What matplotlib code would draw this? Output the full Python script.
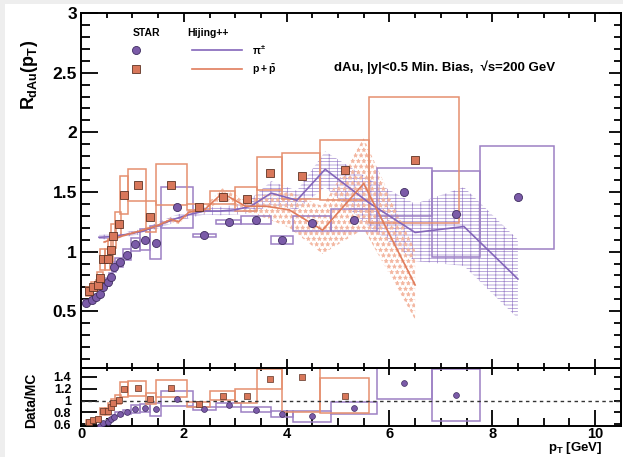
import matplotlib
matplotlib.use('Agg')
import matplotlib.pyplot as plt
from matplotlib.patches import Rectangle
from matplotlib.ticker import MultipleLocator, NullFormatter, NullLocator

plt.rcParams['font.family'] = ['Liberation Sans', 'DejaVu Sans']
plt.rcParams['font.weight'] = 'bold'
plt.rcParams['mathtext.fontset'] = 'custom'
plt.rcParams['mathtext.rm'] = 'Liberation Sans:bold'
plt.rcParams['mathtext.it'] = 'Liberation Sans:bold'
plt.rcParams['mathtext.bf'] = 'Liberation Sans:bold'
plt.rcParams['hatch.linewidth'] = 0.5

# STAR pions (upper panel)
pi_pt = [0.10, 0.21, 0.29, 0.37, 0.43, 0.52, 0.58, 0.65, 0.75, 0.89, 1.06, 1.25,
         1.46, 1.87, 2.39, 2.87, 3.40, 3.92, 4.50, 5.31, 6.29, 7.30, 8.50]
pi_r = [0.57, 0.59, 0.62, 0.645, 0.705, 0.745, 0.79, 0.87, 0.91, 0.975, 1.06, 1.10,
        1.075, 1.37, 1.137, 1.248, 1.265, 1.097, 1.237, 1.265, 1.497, 1.315, 1.455]
pi_sys = [0.02, 0.02, 0.02, 0.02, 0.03, 0.03, 0.03, 0.04, 0.04, 0.045, 0.055, 0.09,
          0.14, 0.17, 0.013, 0.02, 0.03, 0.035, 0.065, 0.09, 0.20, 0.36, 0.43]
pi_lo = [0.06, 0.17, 0.25, 0.33, 0.39, 0.48, 0.54, 0.61, 0.66, 0.81, 0.98, 1.15,
         1.34, 1.56, 2.17, 2.62, 3.11, 3.70, 4.13, 4.86, 5.75, 6.83, 7.76]
pi_hi = [0.14, 0.25, 0.33, 0.41, 0.47, 0.56, 0.62, 0.69, 0.81, 0.98, 1.15, 1.34,
         1.56, 2.18, 2.62, 3.11, 3.70, 4.13, 4.86, 5.75, 6.83, 7.76, 9.21]

# STAR protons (upper panel)
p_pt = [0.16, 0.24, 0.34, 0.37, 0.42, 0.52, 0.58, 0.63, 0.73, 0.84, 1.10, 1.35,
        1.76, 2.29, 2.77, 3.22, 3.68, 4.29, 5.14, 6.50]
p_r = [0.667, 0.706, 0.72, 0.78, 0.935, 0.935, 1.013, 1.13, 1.23, 1.475, 1.56, 1.29,
       1.56, 1.376, 1.455, 1.443, 1.656, 1.634, 1.684, 1.768]
p_sys = [0.04, 0.04, 0.04, 0.05, 0.09, 0.09, 0.09, 0.10, 0.10, 0.16, 0.135, 0.13,
         0.17, 0.025, 0.055, 0.10, 0.14, 0.19, 0.25, 0.525]
p_lo = [0.10, 0.19, 0.29, 0.32, 0.37, 0.47, 0.53, 0.58, 0.67, 0.76, 0.92, 1.26,
        1.46, 2.06, 2.51, 3.00, 3.42, 3.92, 4.65, 5.61]
p_hi = [0.21, 0.29, 0.39, 0.42, 0.47, 0.57, 0.63, 0.68, 0.78, 0.92, 1.26, 1.46,
        2.06, 2.51, 3.00, 3.42, 3.92, 4.65, 5.61, 7.36]

# Hijing++ curves and bands
pi_mc_pt = [0.35, 0.6, 0.9, 1.2, 1.5, 1.8, 2.1, 2.4, 2.7, 3.0, 3.3, 3.7, 4.2, 4.75,
            5.6, 6.5, 7.45, 8.5]
pi_mc = [1.12, 1.125, 1.145, 1.17, 1.22, 1.27, 1.31, 1.34, 1.34, 1.35, 1.38, 1.49,
         1.43, 1.69, 1.41, 1.16, 1.21, 0.77]
pi_mc_err = [0.02, 0.02, 0.02, 0.02, 0.025, 0.03, 0.03, 0.03, 0.035, 0.04, 0.06, 0.10,
             0.08, 0.15, 0.20, 0.24, 0.33, 0.33]
p_mc_pt = [0.45, 0.8, 1.2, 1.5, 1.75, 1.9, 2.1, 2.4, 2.75, 3.2, 3.6, 4.05, 4.7, 5.5, 6.5]
p_mc = [1.08, 1.13, 1.18, 1.22, 1.27, 1.25, 1.33, 1.35, 1.49, 1.38, 1.38, 1.35, 1.18,
        1.57, 0.72]
p_mc_err = [0.01, 0.01, 0.015, 0.015, 0.02, 0.02, 0.02, 0.03, 0.04, 0.05, 0.10, 0.15,
            0.20, 0.38, 0.29]

# Data/MC (lower panel)
pi_rat_pt = [0.37, 0.43, 0.52, 0.58, 0.65, 0.75, 0.89, 1.06, 1.25, 1.46, 1.87, 2.39,
             2.87, 3.40, 3.92, 4.50, 5.31, 6.29, 7.30]
pi_rat = [0.573, 0.62, 0.646, 0.69, 0.73, 0.77, 0.81, 0.86, 0.875, 0.85, 1.034, 0.863,
          0.926, 0.846, 0.778, 0.732, 0.88, 1.29, 1.10]
pi_rat_sys = [0.02, 0.02, 0.02, 0.02, 0.02, 0.03, 0.03, 0.07, 0.075, 0.115, 0.12, 0.025,
              0.04, 0.04, 0.05, 0.087, 0.10, 0.26, 0.44]
pi_rat_lo = pi_lo[3:22]
pi_rat_hi = pi_hi[3:22]
p_rat_pt = [0.16, 0.24, 0.34, 0.42, 0.52, 0.58, 0.63, 0.73, 0.84, 1.10, 1.35, 1.76,
            2.29, 2.77, 3.22, 3.68, 4.29, 5.14]
p_rat = [0.636, 0.663, 0.687, 0.817, 0.817, 0.892, 0.96, 1.017, 1.188, 1.21, 1.03, 1.21,
         0.937, 1.085, 1.074, 1.36, 1.405, 1.085]
p_rat_sys = [0.03, 0.03, 0.03, 0.06, 0.06, 0.06, 0.06, 0.07, 0.12, 0.125, 0.09, 0.145,
             0.04, 0.08, 0.115, 0.17, 0.60, 0.29]
p_rat_lo = p_lo[:3] + p_lo[4:19]
p_rat_hi = p_hi[:3] + p_hi[4:19]

pur_mk, pur_ed, pur_box, pur_line, pur_hatch = '#7b5ba8', '#3f2d60', '#9c80c4', '#8466ba', '#9f86cc'
org_mk, org_ed, org_box, org_line, org_hatch = '#d8775a', '#5e3324', '#e5906f', '#e07d5c', '#f3b6a0'


def boxes(ax, lo, hi, r, sys, color):
    w = [h - l for l, h in zip(lo, hi)]
    b = [v - s for v, s in zip(r, sys)]
    hgt = [2 * s for s in sys]
    ax.bar(lo, hgt, width=w, bottom=b, align='edge', fill=False,
           edgecolor=color, linewidth=1.1, zorder=2)


fig = plt.figure(figsize=(6.23, 4.57), dpi=100, facecolor='#eeeeee')
fig.patches.append(Rectangle((5 / 623, 0), 1, 453 / 457, transform=fig.transFigure,
                             facecolor='white', edgecolor='none', zorder=-10))

W = 539.7 / 623
ax1 = fig.add_axes([81 / 623, 89 / 457, W, 355 / 457])
ax2 = fig.add_axes([81 / 623, 31 / 457, W, 58 / 457])

# upper panel
ax1.fill_between(pi_mc_pt, [m - e for m, e in zip(pi_mc, pi_mc_err)],
                 [m + e for m, e in zip(pi_mc, pi_mc_err)], facecolor='none',
                 edgecolor=pur_hatch, hatch='-----||', linewidth=0, zorder=1)
ax1.fill_between(p_mc_pt, [m - e for m, e in zip(p_mc, p_mc_err)],
                 [m + e for m, e in zip(p_mc, p_mc_err)], facecolor='none',
                 edgecolor=org_hatch, hatch='***', linewidth=0, zorder=1)
boxes(ax1, pi_lo, pi_hi, pi_r, pi_sys, pur_box)
boxes(ax1, p_lo, p_hi, p_r, p_sys, org_box)
ax1.plot(pi_mc_pt, pi_mc, color=pur_line, lw=1.2, zorder=3)
ax1.plot(p_mc_pt, p_mc, color=org_line, lw=1.2, zorder=3)
ax1.plot(pi_pt, pi_r, 'o', ms=5.8, color=pur_mk, mec=pur_ed, mew=0.6, zorder=4)
ax1.plot(p_pt, p_r, 's', ms=5.4, color=org_mk, mec=org_ed, mew=0.6, zorder=4)

ax1.set_xlim(0, 10.5)
ax1.set_ylim(0.024, 3.0)
ax1.xaxis.set_major_locator(MultipleLocator(2))
ax1.xaxis.set_minor_locator(MultipleLocator(0.5))
ax1.yaxis.set_major_locator(MultipleLocator(0.5))
ax1.yaxis.set_minor_locator(MultipleLocator(0.1))
ax1.xaxis.set_major_formatter(NullFormatter())
ax1.tick_params(axis='x', which='both', direction='in', top=True, bottom=True, width=1.3)
ax1.tick_params(axis='x', which='major', length=6.5)
ax1.tick_params(axis='x', which='minor', length=3.5)
ax1.tick_params(axis='y', which='both', direction='in', left=True, right=False, width=1.3)
ax1.tick_params(axis='y', which='major', length=12, labelsize=12.5, pad=3)
ax1.tick_params(axis='y', which='minor', length=6.5)
ax1.set_yticks([0.5, 1, 1.5, 2, 2.5, 3])
ax1.set_yticklabels(['0.5', '1', '1.5', '2', '2.5', '3'])
sec = ax1.secondary_yaxis('right')
sec.yaxis.set_major_locator(MultipleLocator(0.5))
sec.yaxis.set_minor_locator(MultipleLocator(0.1))
sec.yaxis.set_major_formatter(NullFormatter())
sec.tick_params(which='both', direction='in', width=1.3)
sec.tick_params(which='major', length=8.5)
sec.tick_params(which='minor', length=5)
for s in list(ax1.spines.values()) + [sec.spines['right']]:
    s.set_linewidth(1.4)

# legend
fig.text(146 / 623, 1 - 33 / 457, 'STAR', fontsize=7.5, ha='center', va='center')
fig.text(208 / 623, 1 - 33 / 457, 'Hijing++', fontsize=7.5, ha='center', va='center')
fig.lines.append(plt.Line2D([136 / 623], [1 - 50 / 457], marker='o', ms=5.8, color=pur_mk,
                            mec=pur_ed, mew=0.6, transform=fig.transFigure))
fig.lines.append(plt.Line2D([136 / 623], [1 - 68.5 / 457], marker='s', ms=5.4, color=org_mk,
                            mec=org_ed, mew=0.6, transform=fig.transFigure))
fig.lines.append(plt.Line2D([191.7 / 623, 241.7 / 623], [1 - 50 / 457] * 2, color=pur_line,
                            lw=1.2, transform=fig.transFigure))
fig.lines.append(plt.Line2D([191.7 / 623, 241.7 / 623], [1 - 68.5 / 457] * 2, color=org_line,
                            lw=1.2, transform=fig.transFigure))
fig.text(252 / 623, 1 - 50 / 457, r'$\pi^{\pm}$', fontsize=7.5, ha='left', va='center')
fig.text(252 / 623, 1 - 70 / 457, r'$p+\bar{p}$', fontsize=7.5, ha='left', va='center')
fig.text(445 / 623, 1 - 67 / 457, 'dAu, |y|<0.5 Min. Bias,  \u221as=200 GeV',
         fontsize=9.5, ha='center', va='center')

# lower panel
boxes(ax2, pi_rat_lo, pi_rat_hi, pi_rat, pi_rat_sys, pur_box)
boxes(ax2, p_rat_lo, p_rat_hi, p_rat, p_rat_sys, org_box)
ax2.axhline(1.0, color='#333333', lw=1.0, ls=(0, (2.5, 2.5)), zorder=3)
ax2.plot(pi_rat_pt, pi_rat, 'o', ms=4.2, color=pur_mk, mec=pur_ed, mew=0.5, zorder=4)
ax2.plot(p_rat_pt, p_rat, 's', ms=4.0, color=org_mk, mec=org_ed, mew=0.5, zorder=4)
ax2.set_xlim(0, 10.5)
ax2.set_ylim(0.57, 1.55)
ax2.xaxis.set_major_locator(MultipleLocator(2))
ax2.xaxis.set_minor_locator(MultipleLocator(0.5))
ax2.set_yticks([0.6, 0.8, 1.0, 1.2, 1.4])
ax2.set_yticklabels(['0.6', '0.8', '1', '1.2', '1.4'])
ax2.yaxis.set_minor_locator(NullLocator())
ax2.set_xticks([0, 2, 4, 6, 8, 10])
ax2.set_xticklabels(['0', '2', '4', '6', '8', '10'])
ax2.tick_params(axis='x', which='both', direction='in', top=False, bottom=True, width=1.3)
ax2.tick_params(axis='x', which='major', length=11.5, labelsize=10.5, pad=0.5)
ax2.tick_params(axis='x', which='minor', length=5.8)
ax2.tick_params(axis='y', which='both', direction='in', left=True, right=False, width=1.3,
                length=11.5, labelsize=9, pad=7)
sx = ax2.secondary_xaxis('top')
sx.xaxis.set_major_locator(MultipleLocator(2))
sx.xaxis.set_minor_locator(MultipleLocator(0.5))
sx.xaxis.set_major_formatter(NullFormatter())
sx.tick_params(which='both', direction='in', width=1.3)
sx.tick_params(which='major', length=5)
sx.tick_params(which='minor', length=2.5)
sy = ax2.secondary_yaxis('right')
sy.set_yticks([0.6, 0.8, 1.0, 1.2, 1.4])
sy.yaxis.set_minor_locator(NullLocator())
sy.yaxis.set_major_formatter(NullFormatter())
sy.tick_params(which='major', direction='in', width=1.3, length=5)
for s in list(ax2.spines.values()) + [sx.spines['top'], sy.spines['right']]:
    s.set_linewidth(1.4)

# axis titles
fig.text(29 / 623, 1 - 40 / 457, r'$R_{dAu}(p_{T})$', fontsize=13, rotation=90,
         ha='center', va='top')
fig.text(31 / 623, 1 - 400 / 457, 'Data/MC', fontsize=10, rotation=90,
         ha='center', va='center')
fig.text(602 / 623, 1 - 448.5 / 457, r'$p_{T}$ [GeV]', fontsize=9.5, ha='right', va='center')

fig.savefig('out.png', dpi=100, facecolor=fig.get_facecolor())
